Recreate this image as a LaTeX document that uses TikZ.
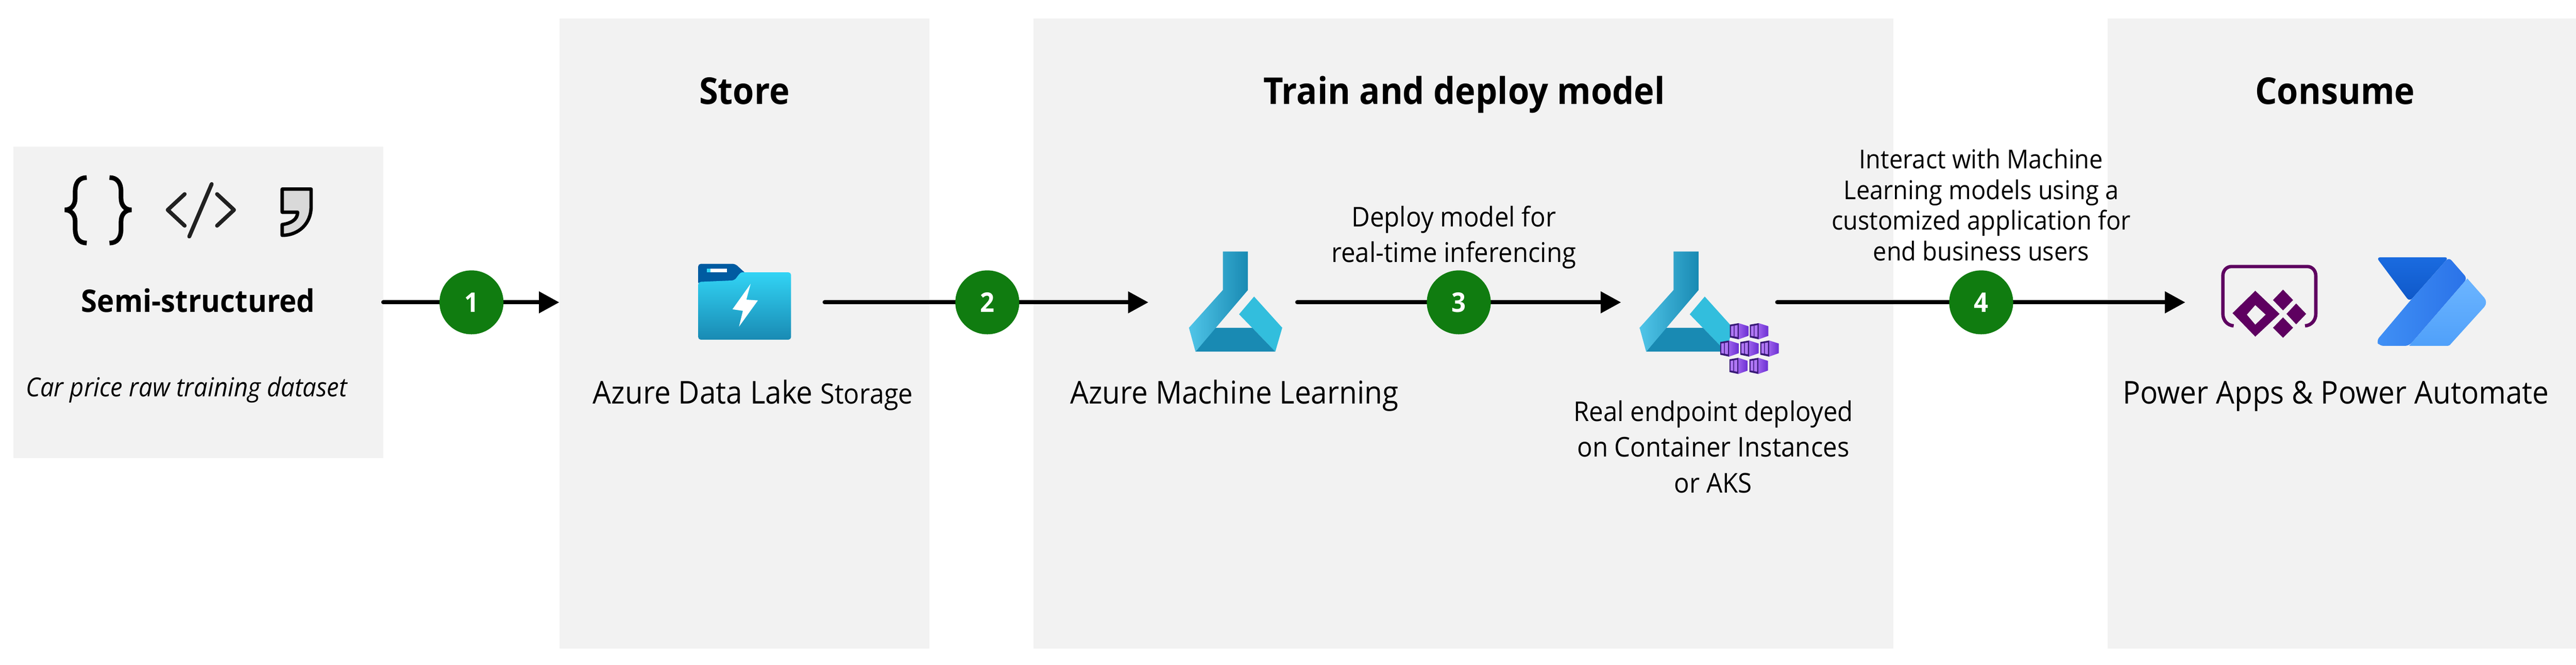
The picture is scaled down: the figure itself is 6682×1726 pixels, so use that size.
\documentclass[tikz,border=0pt]{standalone}
\usepackage{fontspec}
\setmainfont[FakeStretch=0.93]{Open Sans}
\usetikzlibrary{arrows.meta}
\definecolor{panelgrey}{HTML}{F2F2F2}
\definecolor{badgegreen}{HTML}{107C10}
\definecolor{flaskdark}{HTML}{198AB3}
\definecolor{flaskmid}{HTML}{32BEDD}
\definecolor{flasklight}{HTML}{50C5E8}
\definecolor{lakelight}{HTML}{32D4F5}
\definecolor{lakedark}{HTML}{198AB3}
\definecolor{laketab}{HTML}{005BA1}
\definecolor{boxdark}{HTML}{3A1A78}
\definecolor{boxlight}{HTML}{B077F5}
\definecolor{boxfacea}{HTML}{9B5FEB}
\definecolor{boxfaceb}{HTML}{6A2FD2}
\definecolor{appspurple}{HTML}{5E0060}
\definecolor{pada}{HTML}{1A6BE0}
\definecolor{padb}{HTML}{0F58C8}
\definecolor{pama}{HTML}{4090F5}
\definecolor{pamb}{HTML}{2A72E8}
\definecolor{pala}{HTML}{6CB5FF}
\definecolor{palb}{HTML}{4FA0FA}
\tikzset{
  panel/.style={fill=panelgrey,draw=none,inner sep=0pt,outer sep=0pt},
  iconbox/.style={inner sep=0pt,outer sep=0pt,draw=none},
  flow/.style={draw=black,line width=3.1pt,line cap=round,-{Triangle[length=15pt,width=15.4pt]}},
  badge/.style={circle,fill=badgegreen,text=white,inner sep=0pt,minimum size=47.2pt,font=\fontsize{20}{24}\selectfont\bfseries},
  heading/.style={inner sep=0pt,anchor=base,font=\fontsize{27.3}{32}\selectfont\bfseries},
  label/.style={inner sep=0pt,anchor=base,font=\fontsize{23.2}{28}\selectfont},
  note/.style={inner sep=0pt,align=center,font=\fontsize{20.1}{26.3}\selectfont},
  flask/.pic={
    \path[fill=flaskmid] (3253,770) -- (3326,851) -- (3308,913) -- (3214,816) -- cycle;
    \path[fill=flaskdark] (3152,851) -- (3248,851) -- (3308,913) -- (3101,913) -- cycle;
    \path[left color=flasklight,middle color=flasklight!70!flaskdark,right color=flaskdark]
      (3172,653) -- (3237,653) -- (3237,753) -- (3101,913) -- (3084,851) -- (3172,753) -- cycle;
  },
  container/.pic={
    \path[left color=boxfacea,right color=boxfaceb] (23,0) -- (48,8) -- (48,33) -- (23,42) -- cycle;
    \path[fill=boxdark] (0,4) -- (23,0) -- (23,42) -- (0,37) -- cycle;
    \path[fill=boxlight] (3,8) -- (10,7) -- (10,34) -- (3,33) -- cycle;
    \path[fill=boxlight] (12,6.5) -- (20,5) -- (20,36) -- (12,34.5) -- cycle;
  },
}
\begin{document}
\begin{tikzpicture}[x=0.01cm,y=-0.01cm]
\useasboundingbox (0,0) rectangle (6682,1726);
\fill[white] (0,0) rectangle (6682,1726);

% panels
\node[panel,minimum width=9.59cm,minimum height=8.09cm] (semi) at (514.5,785) {};
\node[panel,minimum width=9.59cm,minimum height=16.36cm] (store) at (1930.5,866) {};
\node[panel,minimum width=22.30cm,minimum height=16.36cm] (train) at (3796,866) {};
\node[panel,minimum width=12.15cm,minimum height=16.36cm] (consume) at (6074.5,866) {};

% headings
\node[heading] (hstore) at (1931,270) {Store};
\node[heading] (htrain) at (3798,270) {Train and deploy model};
\node[heading] (hconsume) at (6057,270) {Consume};

% invisible icon frames that the connectors join
\node[iconbox,minimum width=4.18cm,minimum height=2cm] (adls) at (1930,785) {};
\node[iconbox,minimum width=3.86cm,minimum height=2.6cm] (aml) at (3172,785) {};
\node[iconbox,minimum width=4.05cm,minimum height=2.6cm] (endpoint) at (4407.5,785) {};
\node[iconbox,minimum width=0.01cm,minimum height=2cm] (apps) at (5669,785) {};

% connectors
\draw[flow] (semi.east) -- (semi.east -| store.west);
\draw[flow] (adls.east) -- (aml.west);
\draw[flow] (aml.east) -- (endpoint.west);
\draw[flow] (endpoint.east) -- (apps.west);

% badges
\node[badge] (b1) at (1223,785) {1};
\node[badge] (b2) at (2561,785) {2};
\node[badge] (b3) at (3784,785) {3};
\node[badge] (b4) at (5139,785) {4};

% semi-structured icons
\begin{scope}[line width=3.4pt,draw=black]
\draw (225,461) .. controls (205,461) and (195,475) .. (195,497) -- (195,515) .. controls (195,532) and (185,545) .. (168,545) .. controls (185,545) and (195,558) .. (195,575) -- (195,595) .. controls (195,617) and (205,631) .. (225,631);
\draw (284,461) .. controls (304,461) and (314,475) .. (314,497) -- (314,515) .. controls (314,532) and (324,545) .. (341,545) .. controls (324,545) and (314,558) .. (314,575) -- (314,595) .. controls (314,617) and (304,631) .. (284,631);
\end{scope}
\begin{scope}[line width=2.9pt,draw={black!87},line cap=round,line join=round]
\draw (479,504) -- (435,545) -- (479,586);
\draw (549,478) -- (491,614);
\draw (563,504) -- (607,545) -- (563,586);
\end{scope}
\draw[fill={black!15},line width=2.5pt,line join=round] (732,491) -- (807,491) -- (807,537) .. controls (807,580) and (775,611) .. (732,611) -- (732,583) .. controls (755,580) and (772,570) .. (772,551) -- (732,551) -- cycle;

% data lake icon
\path[fill=laketab,rounded corners=2pt] (1811,740) -- (1811,685) -- (1907,685) -- (1940,715) -- (1907,740) -- cycle;
\path[top color=lakelight,bottom color=lakedark,rounded corners=2pt] (1811,882) -- (1811,732) -- (1905,728) .. controls (1915,715) and (1920,707) .. (1932,707) -- (2052,707) -- (2052,882) -- cycle;
\path[fill=white] (1833,697) rectangle (1886,707);
\path[fill=lakelight] (1833,697) rectangle (1843,707);
\path[fill=white,line join=round] (1947,737) -- (1900,803) -- (1927,807) -- (1917,848) -- (1966,780) -- (1936,778) -- cycle;

% machine learning icons
\pic at (0,0) {flask};
\pic at (1169,0) {flask};
\pic at (4487,839) {container};
\pic at (4539,839) {container};
\pic at (4462,884) {container};
\pic at (4514,884) {container};
\pic at (4566,884) {container};
\pic at (4486,929) {container};
\pic at (4538,929) {container};

% power apps icon
\draw[appspurple,line width=2.5pt] (5794,846) .. controls (5778,845) and (5766,832) .. (5766,815) -- (5766,716) .. controls (5766,702) and (5776,692) .. (5788,692) -- (5985,692) .. controls (5997,692) and (6007,702) .. (6007,716) -- (6007,815) .. controls (6007,832) and (5995,845) .. (5979,846);
\path[fill=appspurple,even odd rule] (5791,813) -- (5850,755) -- (5913,815) -- (5850,874) -- cycle (5828,817) -- (5850,792) -- (5877,817) -- (5850,843) -- cycle;
\path[fill=appspurple] (5896,779) -- (5922,752) -- (5948,779) -- (5922,806) -- cycle;
\path[fill=appspurple] (5931,815) -- (5956,788) -- (5982,815) -- (5956,842) -- cycle;
\path[fill=appspurple] (5896,851) -- (5922,824) -- (5948,851) -- (5922,877) -- cycle;

% power automate icon
\path[top color=pada,bottom color=padb,rounded corners=3pt] (6164,668) -- (6352,668) -- (6250,783) -- cycle;
\path[left color=pama,right color=pamb,rounded corners=3pt] (6352,668) -- (6400,723) -- (6249,898) -- (6172,898) -- (6164,885) -- (6250,783) -- cycle;
\path[top color=pala,bottom color=palb] (6400,723) -- (6444,773) .. controls (6450,780) and (6450,790) .. (6444,797) -- (6358,892) .. controls (6355,896) and (6352,898) .. (6349,898) -- (6249,898) -- cycle;

% labels
\node[heading,font=\fontsize{23}{28}\selectfont\bfseries] (lsemi) at (514,811) {Semi-structured};
\node[inner sep=0pt,anchor=base,font=\fontsize{19.3}{24}\selectfont\itshape] (lcar) at (484,1030) {Car price raw training dataset};
\node[label] (lstore) at (1953,1048) {Azure Data Lake {\fontsize{20.6}{28}\selectfont Storage}};
\node[label] (laml) at (3202,1048) {Azure Machine Learning};
\node[label] (lapps) at (6059,1048) {Power Apps \& Power Automate};
\node[note] (lreal) at (4444,1160) {Real endpoint deployed\\on Container Instances\\or AKS};
\node[note] (ldeploy) at (3771,616) {Deploy model for\\real-time inferencing};
\node[note,font=\fontsize{19.2}{22.7}\selectfont] (linteract) at (5139,532) {Interact with Machine\\Learning models using a\\customized application for\\end business users};
\end{tikzpicture}
\end{document}
